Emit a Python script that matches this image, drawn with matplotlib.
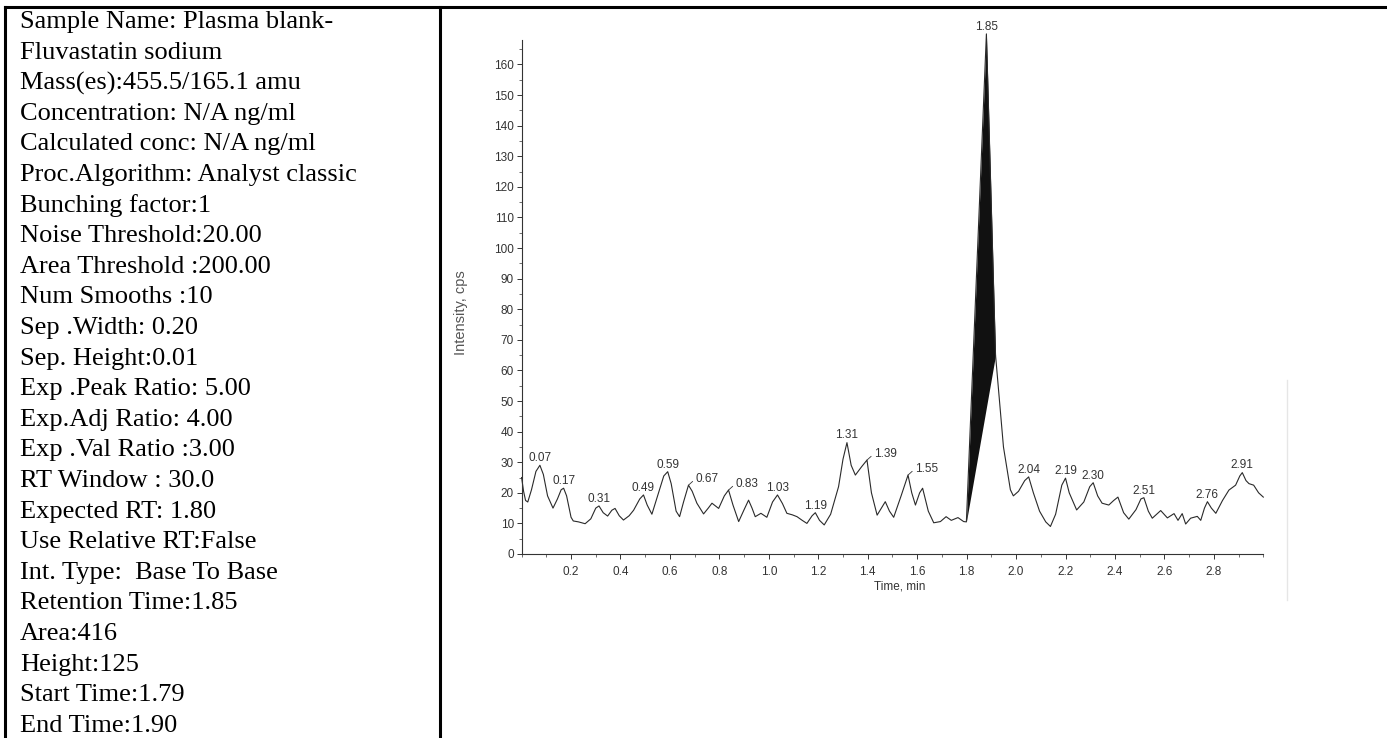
import numpy as np
import matplotlib
matplotlib.use('Agg')
import matplotlib.pyplot as plt
from matplotlib.lines import Line2D
from matplotlib.ticker import MultipleLocator, FixedLocator

# Processing parameters listed in the left cell of the table.
info_lines = [
    "Sample Name: Plasma blank-",
    "Fluvastatin sodium",
    "Mass(es):455.5/165.1 amu",
    "Concentration: N/A ng/ml",
    "Calculated conc: N/A ng/ml",
    "Proc.Algorithm: Analyst classic",
    "Bunching factor:1",
    "Noise Threshold:20.00",
    "Area Threshold :200.00",
    "Num Smooths :10",
    "Sep .Width: 0.20",
    "Sep. Height:0.01",
    "Exp .Peak Ratio: 5.00",
    "Exp.Adj Ratio: 4.00",
    "Exp .Val Ratio :3.00",
    "RT Window : 30.0",
    "Expected RT: 1.80",
    "Use Relative RT:False",
    "Int. Type:  Base To Base",
    "Retention Time:1.85",
    "Area:416",
    "Height:125",
    "Start Time:1.79",
    "End Time:1.90",
]

# Chromatogram trace (time in min, intensity in cps).
rt_min = [
    0.000, 0.008, 0.016, 0.025, 0.040, 0.058, 0.074, 0.088, 0.105, 0.127,
    0.145, 0.160, 0.170, 0.182, 0.200, 0.209, 0.230, 0.257, 0.280, 0.300,
    0.313, 0.330, 0.348, 0.365, 0.378, 0.395, 0.412, 0.435, 0.453, 0.478,
    0.493, 0.508, 0.527, 0.550, 0.575, 0.591, 0.605, 0.625, 0.639, 0.655,
    0.675, 0.690, 0.709, 0.736, 0.755, 0.770, 0.797, 0.820, 0.837, 0.855,
    0.878, 0.900, 0.918, 0.932, 0.945, 0.968, 0.992, 1.015, 1.035, 1.055,
    1.073, 1.095, 1.114, 1.135, 1.154, 1.175, 1.188, 1.205, 1.224, 1.250,
    1.282, 1.300, 1.316, 1.333, 1.350, 1.375, 1.397, 1.415, 1.438, 1.455,
    1.471, 1.488, 1.505, 1.535, 1.563, 1.578, 1.593, 1.610, 1.622, 1.645,
    1.667, 1.694, 1.717, 1.738, 1.765, 1.788, 1.799, 1.880, 1.917, 1.949,
    1.977, 1.989, 2.010, 2.035, 2.051, 2.070, 2.095, 2.120, 2.139, 2.160,
    2.185, 2.200, 2.215, 2.245, 2.274, 2.298, 2.312, 2.330, 2.348, 2.375,
    2.395, 2.412, 2.435, 2.456, 2.485, 2.505, 2.517, 2.535, 2.551, 2.585,
    2.612, 2.639, 2.655, 2.672, 2.686, 2.706, 2.733, 2.747, 2.762, 2.774,
    2.790, 2.808, 2.835, 2.861, 2.888, 2.905, 2.915, 2.930, 2.942, 2.961,
    2.981, 3.000,
]
intensity_cps = [
    25.0, 20.5, 17.5, 17.0, 21.0, 27.0, 29.0, 26.0, 19.0, 15.0,
    18.0, 21.0, 21.5, 19.0, 12.0, 10.8, 10.5, 9.9, 11.5, 15.0,
    15.7, 13.5, 12.4, 14.3, 14.9, 12.5, 11.1, 12.5, 14.3, 18.0,
    19.3, 16.0, 13.0, 19.0, 25.5, 26.9, 23.0, 14.0, 12.2, 17.0,
    22.5, 20.5, 16.6, 13.1, 15.0, 16.6, 14.9, 19.0, 20.9, 16.0,
    10.6, 14.5, 17.6, 15.0, 12.2, 13.3, 12.0, 17.0, 19.3, 16.5,
    13.3, 12.8, 12.2, 11.0, 10.0, 12.5, 13.5, 11.0, 9.5, 13.0,
    22.0, 31.0, 36.4, 29.0, 25.8, 28.5, 30.7, 20.0, 12.7, 15.0,
    17.1, 14.0, 12.0, 19.0, 25.8, 20.0, 16.0, 20.0, 21.5, 14.0,
    10.2, 10.6, 12.2, 11.0, 11.9, 10.6, 10.5, 170.0, 65.0, 35.0,
    21.0, 19.0, 20.5, 24.0, 25.2, 20.0, 14.0, 10.5, 9.0, 13.0,
    22.5, 24.8, 20.0, 14.4, 17.0, 22.0, 23.3, 19.0, 16.6, 16.0,
    17.5, 18.6, 13.5, 11.4, 14.5, 18.0, 18.4, 14.0, 11.7, 14.2,
    11.8, 13.2, 11.0, 13.2, 9.8, 11.7, 12.3, 11.0, 15.0, 17.1,
    15.0, 13.3, 17.5, 20.9, 22.5, 25.5, 26.6, 24.0, 23.0, 22.5,
    20.0, 18.6,
]

# Peak labels printed on the trace; some carry a small leader line.
peak_names = ['0.07', '0.17', '0.31', '0.49', '0.59', '0.67', '0.83', '1.03', '1.19',
              '1.31', '1.39', '1.55', '1.85', '2.04', '2.19', '2.30', '2.51', '2.76', '2.91']
leader_names = ['0.67', '0.83', '1.39', '1.55']

# Integrated peak window (base to base), as drawn on the scan.
int_start = 1.799
int_end = 1.917

W, H = 1387, 738
fig = plt.figure(figsize=(W / 100, H / 100), dpi=100)
fig.patch.set_facecolor('white')

# Table frame.
def px_line(x0, y0, x1, y1, **kw):
    fig.add_artist(Line2D([x0 / W, x1 / W], [1 - y0 / H, 1 - y1 / H],
                          transform=fig.transFigure, **kw))

px_line(5, 7, W, 7, color='black', lw=2.2)
px_line(5, 7, 5, H, color='black', lw=2.2)
px_line(440, 7, 440, H, color='black', lw=2.2)
px_line(1287, 380, 1287, 600, color='#e6e6e6', lw=1.0)

# Left column text.
for i, s in enumerate(info_lines):
    baseline = 28.0 + 30.6 * i
    fig.text(20 / W, 1 - baseline / H, s, fontsize=19, family='Liberation Serif',
             va='baseline', ha='left', color='black')

# Chromatogram.
t = np.array(rt_min)
y = np.array(intensity_cps)

ax = fig.add_axes([521.6 / W, (H - 554) / H, (1263.3 - 521.6) / W, 514 / H])
ax.plot(t, y, color='#2a2a2a', lw=0.8, clip_on=False)

mask = (t >= int_start) & (t <= int_end)
base = np.interp(t[mask], [int_start, int_end],
                 [np.interp(int_start, t, y), np.interp(int_end, t, y)])
ax.fill_between(t[mask], base, y[mask], color='#111111', lw=0, clip_on=False)

ax.set_xlim(0, 3.0)
ax.set_ylim(0, 168)
for side in ['top', 'right']:
    ax.spines[side].set_visible(False)
for side in ['left', 'bottom']:
    ax.spines[side].set_color('#333333')
    ax.spines[side].set_linewidth(0.8)

ax.xaxis.set_major_locator(FixedLocator(np.arange(0.2, 2.81, 0.2)))
ax.xaxis.set_minor_locator(MultipleLocator(0.1))
ax.yaxis.set_major_locator(MultipleLocator(10))
ax.yaxis.set_minor_locator(MultipleLocator(5))
ax.tick_params(axis='both', which='major', length=3.5, width=0.7, color='#333333',
               labelsize=8.5, labelcolor='#333333', pad=2)
ax.tick_params(axis='x', which='major', pad=5)
ax.tick_params(axis='both', which='minor', length=2, width=0.6, color='#555555')
ax.set_xticklabels([f"{v:.1f}" for v in np.arange(0.2, 2.81, 0.2)], family='Liberation Sans')
for lab in ax.get_yticklabels():
    lab.set_family('Liberation Sans')

ax.set_xlabel('Time, min', fontsize=8.5, family='Liberation Sans', color='#333333')
ax.xaxis.set_label_coords(0.51, -0.052)
ax.set_ylabel('Intensity, cps', fontsize=10.5, family='Liberation Sans', color='#555555')
ax.yaxis.set_label_coords(-0.072, 0.47)

# Peak retention-time labels.
for name in peak_names:
    rt = float(name)
    win = (t >= rt - 0.02) & (t <= rt + 0.04)
    k = np.where(win)[0][np.argmax(y[win])]
    if name in leader_names:
        ax.annotate(name, (t[k], y[k]), xytext=(5, 4.5), textcoords='offset points',
                    fontsize=8.5, family='Liberation Sans', color='#333333',
                    ha='left', va='center', annotation_clip=False,
                    arrowprops=dict(arrowstyle='-', lw=0.6, color='#333333',
                                    shrinkA=0, shrinkB=0, relpos=(0, 0.5)))
    else:
        ax.annotate(name, (t[k], y[k]), xytext=(0, 3), textcoords='offset points',
                    fontsize=8.5, family='Liberation Sans', color='#333333',
                    ha='center', va='baseline', annotation_clip=False)

fig.savefig('out.png', dpi=100)
